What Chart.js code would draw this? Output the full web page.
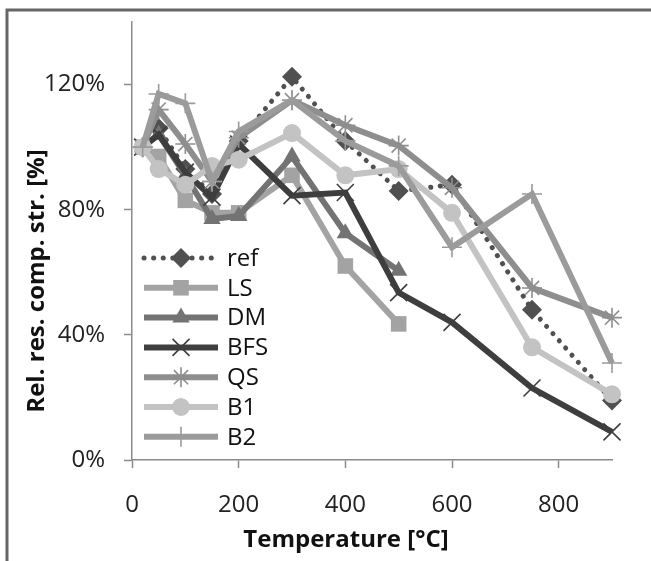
<!DOCTYPE html>
<html>
<head>
<meta charset="utf-8">
<title>Residual compressive strength</title>
<script src="https://cdn.jsdelivr.net/npm/chart.js@4.4.1/dist/chart.umd.min.js"></script>
<style>
html, body { margin: 0; padding: 0; background: #fff; }
#wrap { position: relative; width: 651px; height: 561px; }
</style>
</head>
<body>
<div id="wrap"><canvas id="chart"></canvas></div>
<script>
// exposure temperatures [°C]
const temps = [20, 50, 100, 150, 200, 300, 400, 500, 600, 750, 900];

// relative residual compressive strength [%] per mix
const ref = [100, 106, 93, 85, 102, 122.5, 102, 86, 88, 48, 19];
const LS  = [100, 97, 83, 79, 79, 91, 62, 43.5];
const DM  = [100, 104, 91, 77, 78, 97, 72.5, 60.5];
const BFS = [100, 104, 92, 84, 101, 84.5, 85.5, 53.5, 44, 23, 9];
const QS  = [100, 112, 101, 89, 103, 115, 107, 100.5, 87, 55, 45.5];
const B1  = [100, 93, 88, 94, 96, 104.5, 91, 93, 79, 36, 21];
const B2  = [100, 117, 114, 89, 105, 115, 102, 94, 68, 85, 31];

// axis ticks
const xTicks = [0, 200, 400, 600, 800];
const yTicks = [0, 40, 80, 120];

const FONT = "'Open Sans', 'DejaVu Sans', sans-serif";

// pair temperatures with values
function pts(vals) {
    return vals.map((v, i) => ({ x: temps[i], y: v }));
}

function series(label, vals, color, style, radius, extra) {
    const hollow = ["cross", "crossRot", "star"].includes(style);
    return Object.assign({
        label: label,
        data: pts(vals),
        borderColor: color,
        borderWidth: 6,
        pointStyle: style,
        pointRadius: radius,
        pointHoverRadius: radius,
        pointBackgroundColor: color,
        pointBorderColor: color,
        pointBorderWidth: hollow ? 1.6 : 0,
        tension: 0,
        clip: false
    }, extra || {});
}

let datasets = [
    series("ref", ref, "#505050", "rectRot", 10, { borderWidth: 5, borderDash: [0.1, 9.5], borderCapStyle: "round" }),
    series("LS",  LS,  "#a3a3a3", "rect", 11),
    series("DM",  DM,  "#737373", "triangle", 10),
    series("BFS", BFS, "#3e3e3e", "crossRot", 12),
    series("QS",  QS,  "#8e8e8e", "star", 10),
    series("B1",  B1,  "#c3c3c3", "circle", 9),
    series("B2",  B2,  "#9b9b9b", "cross", 10)
];
// later series on top
datasets.forEach((d, i) => d.order = datasets.length - i);

// outer frame (top and left edges)
const framePlugin = {
    id: "frame",
    beforeDraw(chart) {
        const ctx = chart.ctx;
        ctx.save();
        ctx.strokeStyle = "#666";
        ctx.lineWidth = 3;
        ctx.beginPath();
        ctx.moveTo(7, chart.height);
        ctx.lineTo(7, 10);
        ctx.lineTo(chart.width, 10);
        ctx.stroke();
        ctx.restore();
    }
};

// axis titles
const titlePlugin = {
    id: "axisTitles",
    afterDraw(chart) {
        const ctx = chart.ctx;
        const a = chart.chartArea;
        ctx.save();
        ctx.fillStyle = "#111";
        ctx.font = "bold 24px " + FONT;
        ctx.textAlign = "center";
        ctx.textBaseline = "middle";
        ctx.fillText("Temperature [°C]", a.left + 214, a.bottom + 80);
        ctx.translate(37, a.top + 259);
        ctx.rotate(-Math.PI / 2);
        ctx.fillText("Rel. res. comp. str. [%]", 0, 0);
        ctx.restore();
    }
};

// legend with line sample and marker, inside the plot
const legendPlugin = {
    id: "lineLegend",
    afterDatasetsDraw(chart) {
        const ctx = chart.ctx;
        const a = chart.chartArea;
        const x0 = a.left + 12, x1 = a.left + 86, tx = a.left + 95;
        chart.data.datasets.forEach((ds, i) => {
            const y = a.top + 236 + i * 29.8;
            ctx.save();
            ctx.strokeStyle = ds.borderColor;
            ctx.lineWidth = ds.borderWidth;
            ctx.lineCap = ds.borderCapStyle || "butt";
            ctx.setLineDash(ds.borderDash || []);
            ctx.beginPath();
            ctx.moveTo(x0, y);
            ctx.lineTo(x1, y);
            ctx.stroke();
            ctx.setLineDash([]);
            ctx.fillStyle = ds.pointBackgroundColor;
            ctx.strokeStyle = ds.pointBorderColor;
            ctx.lineWidth = ds.pointBorderWidth;
            Chart.helpers.drawPoint(ctx, {
                pointStyle: ds.pointStyle,
                radius: ds.pointRadius,
                borderWidth: ds.pointBorderWidth,
                rotation: 0
            }, (x0 + x1) / 2, y);
            ctx.fillStyle = "#111";
            ctx.font = "24px " + FONT;
            ctx.textAlign = "left";
            ctx.textBaseline = "middle";
            ctx.fillText(ds.label, tx, y + 1);
            ctx.restore();
        });
    }
};

const axisStyle = {
    border: { color: "#8a8a8a", width: 1.5 },
    grid: { drawOnChartArea: false, drawTicks: true, tickLength: 8, tickColor: "#8a8a8a", tickWidth: 1.5 }
};

new Chart(document.getElementById("chart").getContext("2d"), {
    type: "line",
    data: { datasets: datasets },
    options: {
        responsive: true,
        maintainAspectRatio: false,
        animation: false,
        layout: { padding: { top: 22, right: 39, left: 0, bottom: 0 }, autoPadding: false },
        plugins: {
            legend: { display: false },
            tooltip: { enabled: false }
        },
        scales: {
            x: Object.assign({
                type: "linear",
                min: 0,
                max: 900,
                afterBuildTicks: s => { s.ticks = xTicks.map(v => ({ value: v })); },
                afterFit: s => { s.height = 101; s.paddingLeft = 0; s.paddingRight = 0; },
                ticks: { color: "#222", padding: 23, maxRotation: 0, font: { family: FONT, size: 24 } }
            }, axisStyle),
            y: Object.assign({
                type: "linear",
                min: 0,
                max: 140,
                afterBuildTicks: s => { s.ticks = yTicks.map(v => ({ value: v })); },
                afterFit: s => { s.width = 132; s.paddingTop = 0; s.paddingBottom = 0; },
                ticks: { color: "#222", padding: 19, font: { family: FONT, size: 24 }, callback: v => v + "%" }
            }, axisStyle)
        }
    },
    plugins: [framePlugin, legendPlugin, titlePlugin]
});
</script>
</body>
</html>
